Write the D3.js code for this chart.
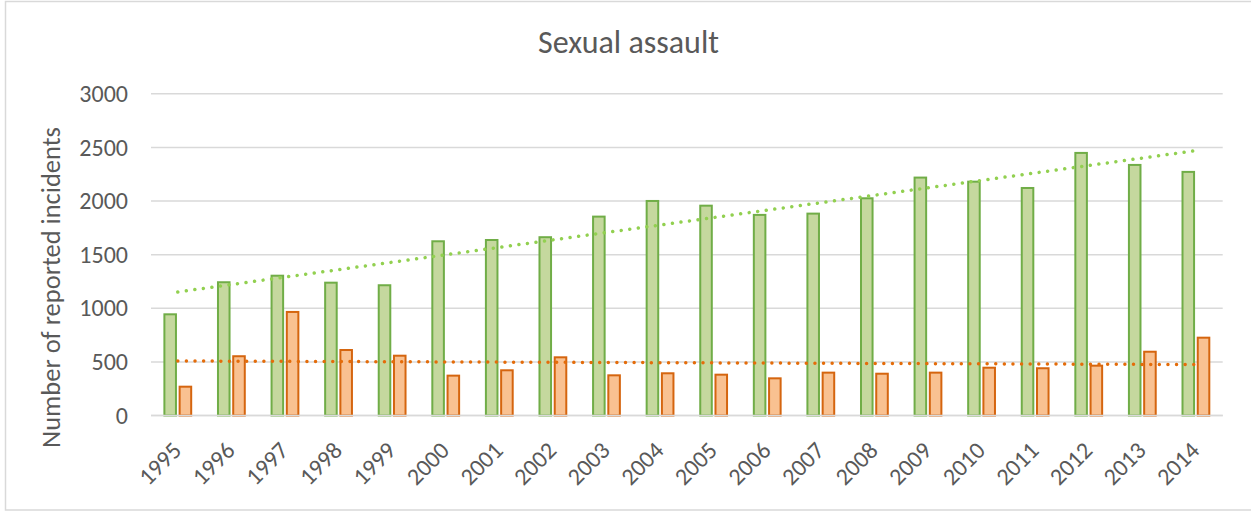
<!DOCTYPE html>
<html>
<head>
<meta charset="utf-8">
<script src="https://cdn.jsdelivr.net/npm/d3@7"></script>
<style>
  html, body { margin: 0; padding: 0; background: #fff; }
  svg { display: block; }
  text { font-family: Carlito, Calibri, Lato, sans-serif; fill: #595959; }
</style>
</head>
<body>
<svg id="chart" width="1251" height="512"></svg>
<script>
// ---- data ----
const years = ["1995","1996","1997","1998","1999","2000","2001","2002","2003","2004",
               "2005","2006","2007","2008","2009","2010","2011","2012","2013","2014"];
const greenValues = [953,1252,1313,1248,1224,1634,1646,1672,1864,2010,
                     1966,1880,1892,2035,2228,2190,2131,2458,2346,2281];
const orangeValues = [278,562,975,620,567,381,431,552,384,403,
                      390,356,409,399,409,455,450,474,604,735];
const yTicks = [0,500,1000,1500,2000,2500,3000];
const title = "Sexual assault";
const yTitle = "Number of reported incidents";

// ---- layout ----
const svg = d3.select("#chart");
const plot = { left: 151, right: 1222.7, top: 93.8, bottom: 415.5 };
const FONT = "Carlito, Calibri, Lato, sans-serif";

svg.append("rect").attr("x", 5.5).attr("y", 1.5).attr("width", 1260).attr("height", 508.5)
  .attr("fill", "#fff").attr("stroke", "#d9d9d9").attr("stroke-width", 1.5);

const x = d3.scaleBand().domain(years).range([plot.left, plot.right]).padding(0);
const y = d3.scaleLinear().domain([0, 3000]).range([plot.bottom, plot.top]);
const groupW = 28.8;
const xSub = d3.scaleBand().domain(["green","orange"]).range([-groupW/2, groupW/2]).paddingInner(0.11);

// gridlines
svg.append("g").selectAll("line").data(yTicks).join("line")
  .attr("x1", plot.left).attr("x2", plot.right)
  .attr("y1", d => y(d)).attr("y2", d => y(d))
  .attr("stroke", "#d9d9d9").attr("stroke-width", 1.5);

// y tick labels via axis
const yAxis = svg.append("g").attr("transform", `translate(${plot.left},0)`)
  .call(d3.axisLeft(y).tickValues(yTicks).tickSize(0).tickPadding(23).tickFormat(d3.format("d")));
yAxis.select(".domain").remove();
yAxis.selectAll("text").style("font-family", FONT)
  .style("font-size", "24px").attr("fill", "#595959");

// bars
const series = [
  { key: "green", values: greenValues, fill: "#c5d89e", stroke: "#70ad47" },
  { key: "orange", values: orangeValues, fill: "#f9c191", stroke: "#d5650f" }
];
const sw = 2;
series.forEach(s => {
  svg.append("g").selectAll("rect").data(years).join("rect")
    .attr("x", (d) => x(d) + x.bandwidth()/2 + xSub(s.key) + sw/2)
    .attr("width", xSub.bandwidth() - sw)
    .attr("y", (d, i) => y(s.values[i]) + sw/2)
    .attr("height", (d, i) => Math.max(0, y(0) - y(s.values[i]) - sw/2))
    .attr("fill", s.fill).attr("stroke", s.stroke).attr("stroke-width", sw);
});

// x axis baseline
svg.append("line").attr("x1", plot.left).attr("x2", plot.right)
  .attr("y1", y(0)).attr("y2", y(0)).attr("stroke", "#d9d9d9").attr("stroke-width", 1.5);

// linear trendlines (least squares over category index)
function trend(vals) {
  const n = vals.length;
  const xs = d3.range(n);
  const mx = d3.mean(xs), my = d3.mean(vals);
  const b = d3.sum(xs, i => (i - mx) * (vals[i] - my)) / d3.sum(xs, i => (i - mx) ** 2);
  const a = my - b * mx;
  return [[0, a], [n - 1, a + b * (n - 1)]];
}
const line = d3.line()
  .x(p => x(years[p[0]]) + x.bandwidth()/2)
  .y(p => y(p[1]));
[
  { vals: greenValues, color: "#92d050" },
  { vals: orangeValues, color: "#e46c0a" }
].forEach(t => {
  svg.append("path").attr("d", line(trend(t.vals)))
    .attr("fill", "none").attr("stroke", t.color).attr("stroke-width", 3.5)
    .attr("stroke-linecap", "round").attr("stroke-dasharray", "0.01 8.6");
});

// x labels rotated
const xAxis = svg.append("g").attr("transform", `translate(0,${plot.bottom})`)
  .call(d3.axisBottom(x).tickSize(0).tickPadding(0));
xAxis.select(".domain").remove();
xAxis.selectAll("text")
  .style("font-family", FONT).style("font-size", "24px")
  .attr("fill", "#595959")
  .attr("text-anchor", "end")
  .attr("y", 0)
  .attr("dy", "0")
  .attr("transform", "translate(5,36.5) rotate(-45)");

// title
svg.append("text").attr("x", 628.5).attr("y", 53).attr("text-anchor", "middle")
  .style("font-size", "32px").text(title);

// y axis title
svg.append("text").attr("transform", "translate(60,287.5) rotate(-90)")
  .attr("text-anchor", "middle").style("font-size", "26.5px").text(yTitle);
</script>
</body>
</html>
